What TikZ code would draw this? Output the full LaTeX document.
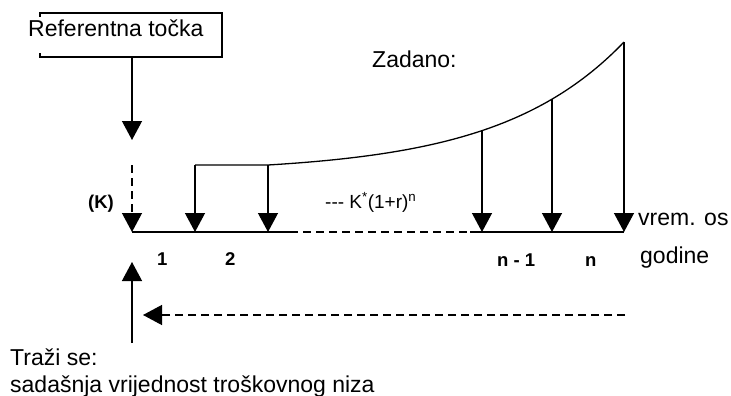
\documentclass[tikz,border=0pt]{standalone}
\usepackage{fontspec}
\setmainfont{Liberation Sans}
\usetikzlibrary{arrows.meta}
\begin{document}
\begin{tikzpicture}[x=1pt,y=-1pt,
  big/.style={font=\fontsize{23}{26}\selectfont,inner sep=0pt,anchor=base west},
  lab/.style={font=\fontsize{18.5}{21}\selectfont\bfseries,inner sep=0pt,anchor=base west},
  frm/.style={font=\fontsize{19}{21}\selectfont,inner sep=0pt,anchor=base west},
  ln/.style={line width=1.3pt},
  axisln/.style={line width=2pt},
  arr/.style={ln,-{Triangle[width=20pt,length=19pt]}},
  dsh/.style={dash pattern=on 8pt off 5pt}]
\useasboundingbox (0,0) rectangle (731,396);

% reference box
\node[big] (ref) at (28,37) {Referentna točka};
\draw[ln] (40,17) -- (40,13) -- (222,13) -- (222,57) -- (40,57) -- (40,53);
\coordinate (refb) at (132,57);
\coordinate (t0) at (132,140);
\draw[arr] (refb) -- (t0);

% axis
\coordinate (k0) at (132,165);
\coordinate (a0) at (132,232);
\coordinate (a1) at (290,232);
\coordinate (a2) at (470,232);
\coordinate (aE) at (624,232);
\draw[axisln] (a0) -- (a1);
\draw[axisln,dsh] (a1) -- (a2);
\draw[axisln] (a2) -- (aE);
\draw[arr,dsh] (k0) -- (a0);

% given series
\coordinate (p1) at (195,165);
\coordinate (p2) at (268,165);
\coordinate (p3) at (482,130.6);
\coordinate (p4) at (552,99.1);
\coordinate (p5) at (624,42.5);
\coordinate (b1) at (195,232);
\coordinate (b2) at (268,232);
\coordinate (b3) at (482,232);
\coordinate (b4) at (552,232);
\draw[ln] (p1) -- (p2) -- plot[domain=268:624,samples=80] (\x,{165-7.58*(exp(0.008*(\x-268))-1)});
\draw[arr] (p1) -- (b1);
\draw[arr] (p2) -- (b2);
\draw[arr] (p3) -- (b3);
\draw[arr] (p4) -- (b4);
\draw[arr] (p5) -- (aE);

% labels
\node[lab] (K) at (88,208) {(K)};
\node[lab] (l1) at (157,265) {1};
\node[lab] (l2) at (225,265) {2};
\node[lab] (ln1) at (497,266) {n - 1};
\node[lab] (lnn) at (585,266) {n};
\node[frm] (form) at (325,208) {-{}-{}- K\textsuperscript{*}(1+r)\textsuperscript{n}};
\node[big] (vrem) at (638,225) {vrem. os};
\node[big] (god) at (640,263) {godine};
\node[big] (zad) at (372,67) {Zadano:};

% sought
\coordinate (u0) at (132,343);
\coordinate (u1) at (132,262);
\draw[arr] (u0) -- (u1);
\coordinate (d0) at (625,315);
\coordinate (d1) at (143,315);
\draw[arr,dsh] (d0) -- (d1);
\node[big] (trazi) at (10,365) {Traži se:};
\node[big] (sad) at (10,392) {sadašnja vrijednost troškovnog niza};
\end{tikzpicture}
\end{document}
